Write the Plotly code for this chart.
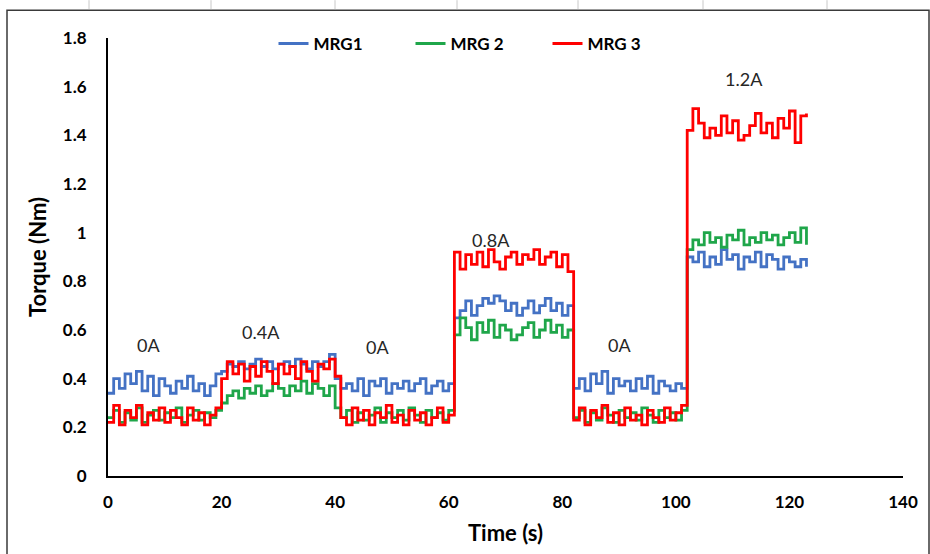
import plotly.graph_objects as go

# Sampling instants (s), one reading per second
time_s = list(range(0, 124))

# Torque readings (Nm) for each magnetorheological generator
mrg1 = [
    # 0 A
    0.34, 0.40, 0.36, 0.42, 0.38, 0.43, 0.35, 0.41, 0.33, 0.40,
    0.37, 0.34, 0.39, 0.36, 0.41, 0.35, 0.38, 0.33, 0.37, 0.42,
    # 0.4 A
    0.43, 0.46, 0.45, 0.47, 0.44, 0.46, 0.48, 0.45, 0.47, 0.44,
    0.46, 0.47, 0.45, 0.48, 0.46, 0.44, 0.47, 0.45, 0.47, 0.50,
    # 0 A
    0.40, 0.36, 0.38, 0.35, 0.40, 0.33, 0.39, 0.37, 0.40, 0.34,
    0.38, 0.36, 0.39, 0.35, 0.38, 0.40, 0.34, 0.37, 0.39, 0.35, 0.38,
    # 0.8 A
    0.65, 0.68, 0.72, 0.66, 0.70, 0.73, 0.71, 0.74, 0.72, 0.68,
    0.71, 0.66, 0.69, 0.72, 0.67, 0.70, 0.73, 0.68, 0.71, 0.66, 0.70,
    # 0 A
    0.36, 0.40, 0.35, 0.42, 0.38, 0.43, 0.34, 0.40, 0.37, 0.39,
    0.35, 0.40, 0.36, 0.41, 0.34, 0.39, 0.37, 0.35, 0.38, 0.36,
    # 1.2 A
    0.90, 0.88, 0.92, 0.86, 0.90, 0.87, 0.93, 0.89, 0.91, 0.85, 0.90,
    0.88, 0.92, 0.86, 0.91, 0.89, 0.85, 0.90, 0.88, 0.86, 0.89, 0.86,
]

mrg2 = [
    0.24, 0.27, 0.22, 0.26, 0.23, 0.28, 0.22, 0.25, 0.27, 0.23,
    0.26, 0.24, 0.28, 0.22, 0.25, 0.27, 0.23, 0.26, 0.24, 0.27,
    0.30, 0.33, 0.35, 0.32, 0.36, 0.34, 0.37, 0.33, 0.35, 0.38,
    0.36, 0.33, 0.37, 0.35, 0.39, 0.34, 0.38, 0.36, 0.33, 0.37,
    0.28, 0.24, 0.27, 0.22, 0.26, 0.23, 0.25, 0.28, 0.22, 0.26,
    0.24, 0.27, 0.23, 0.28, 0.25, 0.22, 0.27, 0.24, 0.26, 0.23, 0.27,
    0.58, 0.65, 0.61, 0.56, 0.63, 0.59, 0.64, 0.57, 0.62, 0.60,
    0.56, 0.58, 0.61, 0.63, 0.57, 0.60, 0.64, 0.59, 0.62, 0.57, 0.60,
    0.24, 0.27, 0.22, 0.26, 0.23, 0.28, 0.25, 0.22, 0.27, 0.24,
    0.26, 0.23, 0.28, 0.25, 0.22, 0.27, 0.24, 0.26, 0.23, 0.27,
    0.93, 0.97, 0.95, 1.00, 0.96, 0.98, 0.94, 0.99, 0.97, 1.01, 0.95,
    0.98, 0.96, 1.00, 0.97, 0.99, 0.95, 0.98, 1.00, 0.96, 1.02, 0.95,
]

mrg3 = [
    0.22, 0.29, 0.21, 0.27, 0.24, 0.29, 0.21, 0.26, 0.23, 0.28,
    0.22, 0.27, 0.24, 0.21, 0.28, 0.23, 0.26, 0.21, 0.25, 0.28,
    0.40, 0.47, 0.42, 0.46, 0.39, 0.45, 0.41, 0.47, 0.43, 0.38,
    0.46, 0.42, 0.45, 0.40, 0.47, 0.43, 0.39, 0.46, 0.44, 0.48,
    0.41, 0.24, 0.21, 0.28, 0.23, 0.27, 0.21, 0.26, 0.24, 0.29,
    0.22, 0.25, 0.21, 0.27, 0.23, 0.26, 0.21, 0.24, 0.28, 0.22, 0.25,
    0.92, 0.85, 0.91, 0.87, 0.92, 0.86, 0.93, 0.88, 0.85, 0.90,
    0.92, 0.87, 0.91, 0.89, 0.93, 0.87, 0.90, 0.92, 0.86, 0.91, 0.84,
    0.23, 0.28, 0.21, 0.27, 0.24, 0.29, 0.22, 0.26, 0.21, 0.28,
    0.23, 0.25, 0.21, 0.27, 0.24, 0.22, 0.28, 0.23, 0.26, 0.29,
    1.42, 1.51, 1.45, 1.39, 1.43, 1.40, 1.48, 1.41, 1.46, 1.38, 1.40,
    1.44, 1.49, 1.41, 1.45, 1.39, 1.47, 1.43, 1.50, 1.37, 1.48, 1.49,
]

series_names = ["MRG1", "MRG 2", "MRG 3"]
series_colors = ["#4472C4", "#1FA64A", "#FF0000"]

# Applied coil current labels: (text, time, torque)
current_labels = ["0A", "0.4A", "0A", "0.8A", "0A", "1.2A"]
label_x = [7.2, 27.0, 47.5, 67.5, 90.0, 112.0]
label_y = [0.54, 0.59, 0.53, 0.97, 0.54, 1.63]

FONT = "Lato"

fig = go.Figure()
for name, ys, col in zip(series_names, [mrg1, mrg2, mrg3], series_colors):
    fig.add_trace(go.Scatter(
        x=time_s, y=ys, name=name, mode="lines",
        line=dict(color=col, width=2.8, shape="hv"),
    ))

for txt, lx, ly in zip(current_labels, label_x, label_y):
    fig.add_annotation(x=lx, y=ly, text=txt, showarrow=False,
                       font=dict(family=FONT, size=18, color="#262626"))

# Outer chart frame
L, R, T, B = 108, 903, 38, 478
def px_x(p):
    return (p - L) / (R - L)
def px_y(p):
    return (B - p) / (B - T)

fig.add_shape(type="rect", xref="paper", yref="paper",
              x0=px_x(7), x1=px_x(929), y0=px_y(560), y1=px_y(10),
              line=dict(color="#3a3a3a", width=1.5), fillcolor="rgba(0,0,0,0)")
for gx in [89, 211, 335, 457, 578, 703, 827]:
    fig.add_shape(type="line", xref="paper", yref="paper",
                  x0=px_x(gx), x1=px_x(gx), y0=px_y(0), y1=px_y(9),
                  line=dict(color="#c8c8c8", width=1))

fig.update_layout(
    width=930, height=554,
    margin=dict(l=L, r=930 - R, t=T, b=554 - B),
    paper_bgcolor="white", plot_bgcolor="white",
    font=dict(family=FONT, color="black"),
    showlegend=True,
    legend=dict(orientation="h", x=px_x(479), xanchor="center", y=px_y(44), yanchor="middle",
                font=dict(family=FONT, size=17, color="black", weight="bold"),
                bgcolor="rgba(0,0,0,0)", itemwidth=30,
                entrywidth=92, entrywidthmode="pixels"),
    xaxis=dict(range=[0, 140], tickmode="array", tickvals=list(range(0, 141, 20)),
               showgrid=False, zeroline=False, showline=True, linecolor="black", linewidth=2,
               ticks="", ticklabelstandoff=10,
               tickfont=dict(family=FONT, size=17, color="black", weight="bold"),
               title=dict(text="Time (s)", standoff=14,
                          font=dict(family=FONT, size=22, color="black", weight="bold"))),
    yaxis=dict(range=[0, 1.8], tickmode="array",
               tickvals=[0, 0.2, 0.4, 0.6, 0.8, 1.0, 1.2, 1.4, 1.6, 1.8],
               ticktext=["0", "0.2", "0.4", "0.6", "0.8", "1", "1.2", "1.4", "1.6", "1.8"],
               showgrid=False, zeroline=False, showline=True, linecolor="black", linewidth=2,
               ticks="", ticklabelstandoff=16,
               tickfont=dict(family=FONT, size=17, color="black", weight="bold"),
               title=dict(text="Torque (Nm)", standoff=10,
                          font=dict(family=FONT, size=22, color="black", weight="bold"))),
)

fig.write_html("out.html")
